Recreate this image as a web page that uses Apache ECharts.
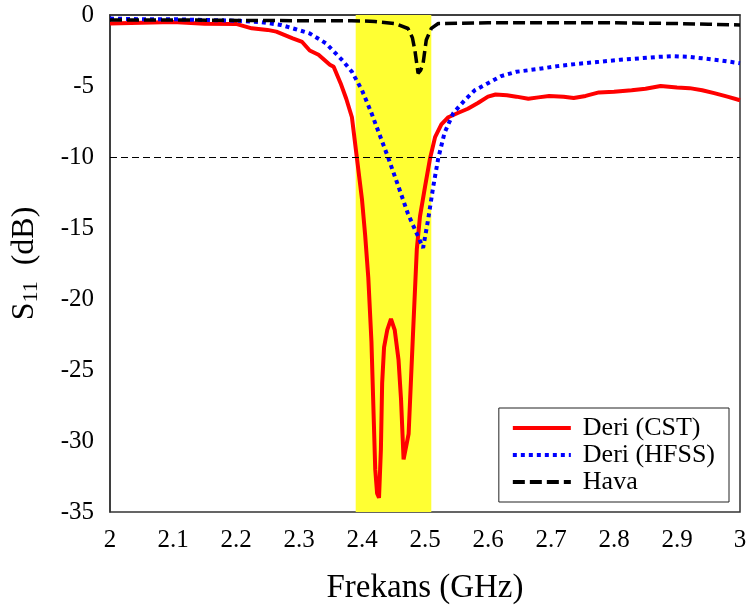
<!DOCTYPE html>
<html>
<head>
<meta charset="utf-8">
<script src="https://cdn.jsdelivr.net/npm/echarts@6/dist/echarts.min.js"></script>
<style>
html,body{margin:0;padding:0;background:#fff;}
#chart{width:751px;height:613px;}
</style>
</head>
<body>
<div id="chart"></div>
<script>
// ---- Data ----
const seriesNames = ['Deri (CST)', 'Deri (HFSS)', 'Hava'];

const cstFreq = [2.00,2.05,2.10,2.15,2.20,2.225,2.25,2.264,2.29,2.305,2.317,2.331,2.349,2.355,2.366,2.375,2.384,2.392,2.400,2.405,2.410,2.415,2.418,2.421,2.424,2.427,2.430,2.432,2.435,2.440,2.446,2.452,2.458,2.462,2.466,2.474,2.481,2.487,2.492,2.500,2.508,2.516,2.526,2.537,2.552,2.568,2.584,2.600,2.612,2.630,2.645,2.664,2.680,2.697,2.720,2.736,2.755,2.776,2.800,2.828,2.850,2.874,2.900,2.920,2.940,2.959,2.980,3.000];
const cstS11  = [-0.60,-0.55,-0.50,-0.62,-0.63,-0.94,-1.05,-1.17,-1.64,-1.90,-2.50,-2.80,-3.50,-3.65,-4.80,-5.90,-7.20,-10.1,-13.0,-15.5,-18.5,-23.0,-27.5,-32.0,-33.7,-34.0,-30.6,-25.9,-23.4,-22.2,-21.4,-22.2,-24.3,-27.1,-31.3,-29.5,-22.4,-16.5,-14.2,-12.1,-10.1,-8.6,-7.7,-7.2,-6.9,-6.6,-6.2,-5.75,-5.6,-5.65,-5.75,-5.9,-5.8,-5.7,-5.75,-5.85,-5.7,-5.45,-5.4,-5.3,-5.2,-5.0,-5.1,-5.15,-5.3,-5.5,-5.75,-6.0];

const hfssFreq = [2.00,2.05,2.10,2.15,2.20,2.24,2.271,2.295,2.317,2.343,2.369,2.384,2.400,2.415,2.431,2.442,2.458,2.473,2.489,2.497,2.505,2.513,2.521,2.531,2.545,2.563,2.579,2.600,2.621,2.645,2.680,2.710,2.740,2.776,2.810,2.841,2.870,2.894,2.920,2.940,2.970,3.000];
const hfssS11  = [-0.25,-0.30,-0.30,-0.35,-0.40,-0.50,-0.70,-1.00,-1.30,-2.00,-3.20,-4.00,-5.30,-6.90,-8.80,-10.1,-12.1,-14.0,-15.6,-16.4,-14.4,-12.1,-10.1,-8.3,-6.9,-6.0,-5.3,-4.8,-4.3,-4.0,-3.8,-3.6,-3.45,-3.3,-3.15,-3.05,-2.95,-2.9,-2.95,-3.05,-3.2,-3.4];

const havaFreq = [2.00,2.10,2.20,2.30,2.384,2.420,2.452,2.473,2.480,2.484,2.489,2.493,2.497,2.502,2.510,2.521,2.600,2.700,2.800,2.900,2.950,3.000];
const havaS11  = [-0.35,-0.35,-0.38,-0.40,-0.40,-0.45,-0.60,-0.95,-1.60,-2.50,-4.10,-3.90,-3.40,-1.76,-0.94,-0.60,-0.55,-0.55,-0.55,-0.60,-0.65,-0.70];

const xTicks = [2, 2.1, 2.2, 2.3, 2.4, 2.5, 2.6, 2.7, 2.8, 2.9, 3];
const yTicks = [0, -5, -10, -15, -20, -25, -30, -35];
const bandRange = [2.39, 2.51];
const refLevel = -10;

function pairs(xs, ys){ return xs.map((x,i)=>[x, ys[i]]); }

const FONT = 'Liberation Serif';
const chart = echarts.init(document.getElementById('chart'));
chart.setOption({
  animation: false,
  backgroundColor: '#ffffff',
  grid: {
    left: 105, right: 11, top: 15, bottom: 101,
    show: true, borderColor: '#333', borderWidth: 1.5, backgroundColor: 'transparent'
  },
  legend: {
    data: seriesNames,
    orient: 'vertical',
    right: 22, bottom: 111,
    backgroundColor: '#fff',
    borderColor: '#222', borderWidth: 1,
    padding: [7, 14, 7, 12],
    itemWidth: 58, itemHeight: 14, itemGap: 1,
    itemStyle: { opacity: 0 },
    lineStyle: { width: 4 },
    textStyle: { fontFamily: FONT, fontSize: 26, color: '#000', lineHeight: 26, padding: [0,0,0,7] }
  },
  xAxis: {
    type: 'value', min: xTicks[0], max: xTicks[xTicks.length-1], interval: 0.1,
    axisLine: { show: true, lineStyle: { color: '#333', width: 1.5 } },
    axisTick: { show: false },
    splitLine: { show: false },
    axisLabel: { fontFamily: FONT, fontSize: 25, color: '#000', margin: 16,
      formatter: v => String(+v.toFixed(1)) },
    name: 'Frekans (GHz)', nameLocation: 'middle', nameGap: 60,
    nameTextStyle: { fontFamily: FONT, fontSize: 33, color: '#000' }
  },
  yAxis: {
    type: 'value', min: yTicks[yTicks.length-1], max: yTicks[0], interval: 5,
    axisLine: { show: true, lineStyle: { color: '#333', width: 1.5 } },
    axisTick: { show: false },
    splitLine: { show: false },
    axisLabel: { fontFamily: FONT, fontSize: 25, color: '#000', margin: 16 },
    name: '{s|S}{sub|11}{s|  (dB)}', nameLocation: 'middle', nameGap: 68, nameRotate: 90,
    nameTextStyle: {
      fontFamily: FONT, color: '#000',
      rich: {
        s: { fontFamily: FONT, fontSize: 32, color: '#000', lineHeight: 34 },
        sub: { fontFamily: FONT, fontSize: 22, color: '#000', lineHeight: 34, padding: [12,0,0,0] }
      }
    }
  },
  series: [
    {
      name: '__band', type: 'line', data: [], z: 1, silent: true,
      markArea: {
        silent: true,
        itemStyle: { color: '#ffff33', opacity: 1 },
        data: [[{ xAxis: bandRange[0] }, { xAxis: bandRange[1] }]]
      },
      markLine: {
        silent: true, symbol: 'none', label: { show: false },
        lineStyle: { color: '#000', width: 1, type: [7, 4] },
        data: [{ yAxis: refLevel }]
      }
    },
    {
      name: seriesNames[0], type: 'line', data: pairs(cstFreq, cstS11), z: 3,
      symbol: 'none', showSymbol: false,
      lineStyle: { color: '#ff0000', width: 4 },
      itemStyle: { color: '#ff0000' }
    },
    {
      name: seriesNames[1], type: 'line', data: pairs(hfssFreq, hfssS11), z: 4,
      symbol: 'none', showSymbol: false,
      lineStyle: { color: '#0000ff', width: 4, type: [4, 4], cap: 'butt' },
      itemStyle: { color: '#0000ff' }
    },
    {
      name: seriesNames[2], type: 'line', data: pairs(havaFreq, havaS11), z: 5,
      symbol: 'none', showSymbol: false,
      lineStyle: { color: '#000000', width: 3.5, type: [12, 5], cap: 'butt' },
      itemStyle: { color: '#000000' }
    }
  ]
});
</script>
</body>
</html>
